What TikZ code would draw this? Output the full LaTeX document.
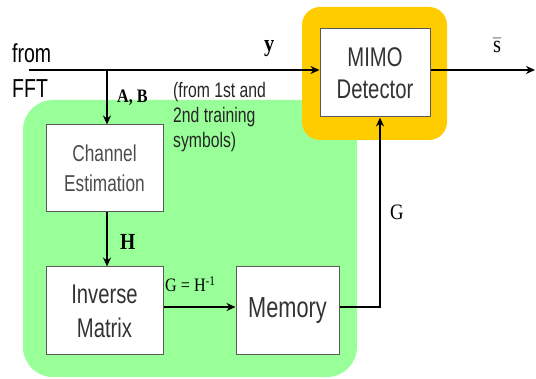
\documentclass[tikz,border=0pt]{standalone}
\usepackage{amsmath}
\usepackage{fontspec}
\setmainfont{Liberation Serif}
\newfontfamily\boxfont[FakeStretch=0.75]{Liberation Sans}
\newfontfamily\labfont[FakeStretch=0.85]{Liberation Serif}
\usepackage{xcolor}
\definecolor{panelgreen}{HTML}{99FF99}
\definecolor{detorange}{HTML}{FFCC00}
\usetikzlibrary{arrows.meta,calc}

\begin{document}
\begin{tikzpicture}[x=1pt,y=-1pt,>={Stealth[length=9pt,width=8pt]},
    blk/.style={draw=black!65,line width=1pt,fill=white,inner sep=0pt,align=center,text=black!80},
    sig/.style={line width=2.2pt},
    lnk/.style={line width=1.6pt},
    lab/.style={inner sep=0pt,anchor=base west}]
    \useasboundingbox (0,0) rectangle (536,379);
    \fill[panelgreen,rounded corners=30pt] (23,100) rectangle (357,377);
    \fill[detorange,rounded corners=18pt] (302,7) rectangle (447,140);
    \node[blk,minimum width=117pt,minimum height=87pt,text=black!70,
        font=\boxfont\fontsize{23}{30}\selectfont] (chest) at (104.5,168.5) {Channel\\Estimation};
    \node[blk,minimum width=117pt,minimum height=88pt,
        font=\boxfont\fontsize{27}{34}\selectfont] (inv) at (104.5,311) {Inverse\\Matrix};
    \node[blk,minimum width=103pt,minimum height=88pt,
        font=\boxfont\fontsize{29}{34}\selectfont] (mem) at (287.5,311) {Memory};
    \node[blk,minimum width=110pt,minimum height=88pt,
        font=\boxfont\fontsize{27}{32}\selectfont] (det) at (375,73) {MIMO\\Detector};
    \coordinate (fft) at (29,70);
    \coordinate (br) at (107,70);
    \coordinate (sout) at (535,70);
    \draw[sig,->] (fft) -- (fft -| det.west);
    \draw[sig,->] (sout -| det.east) -- (sout);
    \draw[lnk,->] (br) -- (br |- chest.north);
    \draw[lnk,->] (br |- chest.south) -- (br |- inv.north);
    \draw[lnk,->] ([yshift=4pt]inv.east) -- ([yshift=4pt]inv.east -| mem.west);
    \draw[lnk,->] ([yshift=4pt]mem.east) -| ([xshift=5pt]det.south);
    \node[lab,font=\boxfont\fontsize{26}{26}\selectfont] (from) at (12,63) {from};
    \node[lab,font=\boxfont\fontsize{26}{26}\selectfont] (fftlab) at (12,98) {FFT};
    \node[lab,font=\labfont\bfseries\fontsize{24}{24}\selectfont] (ylab) at (264,52) {y};
    \node[lab,font=\labfont\fontsize{24}{24}\selectfont] (sbar) at (493,53) {$\bar{\text{s}}$};
    \node[lab,font=\labfont\bfseries\fontsize{19}{19}\selectfont] (ablab) at (117,103) {A, B};
    \node[inner sep=0pt,anchor=north west,align=left,text=black!85,
        font=\boxfont\fontsize{21}{25}\selectfont] (note) at (173,82) {(from 1st and\\2nd training\\symbols)};
    \node[lab,font=\labfont\bfseries\fontsize{23}{23}\selectfont] (hlab) at (120,250) {H};
    \node[lab,font=\labfont\fontsize{19}{19}\selectfont] (ginv) at (165,292) {G = H\textsuperscript{-1}};
    \node[lab,font=\labfont\fontsize{22}{22}\selectfont] (glab) at (390,220) {G};
\end{tikzpicture}
\end{document}
